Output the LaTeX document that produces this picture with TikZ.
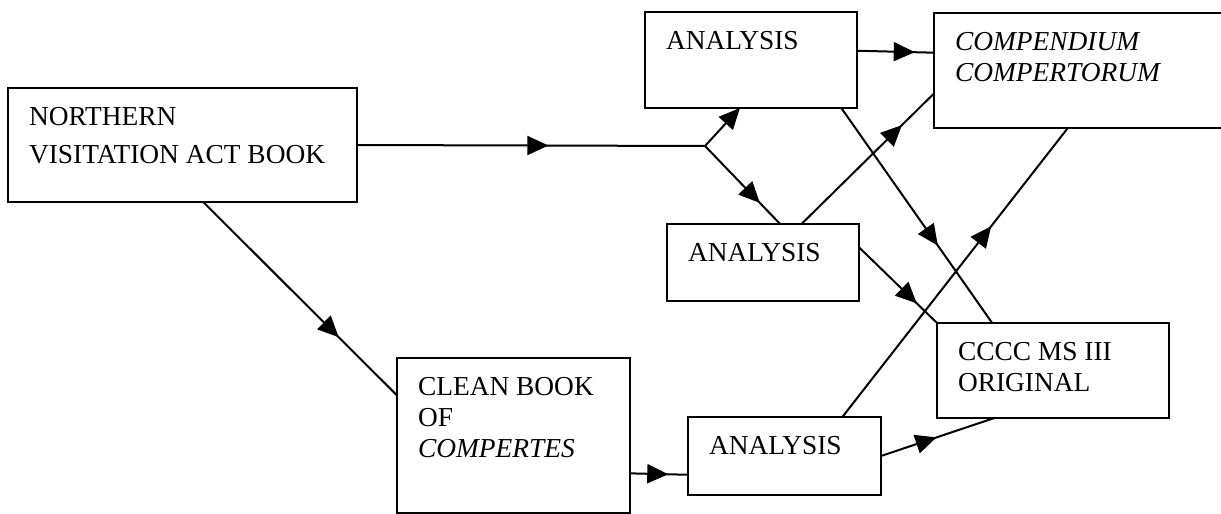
\documentclass[tikz,border=0pt]{standalone}
\usepackage{fontspec}
\setmainfont{Liberation Serif}
\usetikzlibrary{arrows.meta,decorations.markings}

\begin{document}
\begin{tikzpicture}[x=0.5pt,y=-0.5pt,
    srcbox/.style={draw, line width=1pt, anchor=north west, outer sep=0pt,
      inner xsep=10.5pt, inner ysep=9.5pt, font=\fontsize{13.7pt}{15.5pt}\selectfont},
    flow/.style={line width=1pt},
    midarrow/.style={flow, postaction={decorate},
      decoration={markings, mark=at position #1 with {\arrow{Triangle[length=10.5pt,width=9.5pt]}}}},
    endarrow/.style={flow, -{Triangle[length=10.5pt,width=9.5pt]}}]

      \useasboundingbox (0,0) rectangle (1221,514);

      \node[srcbox] (nvab) at (8,88) {\parbox[c][38pt][t]{153.5pt}{NORTHERN\\[3.5pt]VISITATION ACT BOOK}};
      \node[srcbox] (clean) at (397,358) {\parbox[c][58.5pt][t]{95.5pt}{CLEAN BOOK\\OF\\\textit{COMPERTES}}};

      \node[srcbox] (ana1) at (645,12) {\parbox[c][29pt][t]{85pt}{ANALYSIS}};
      \node[srcbox] (ana2) at (667,224) {\parbox[c][19.5pt][t]{75pt}{ANALYSIS}};
      \node[srcbox] (ana3) at (688,417) {\parbox[c][20pt][t]{75.5pt}{ANALYSIS}};

      \node[srcbox] (comp) at (934,13) {\parbox[c][38.5pt][t]{124pt}{\textit{COMPENDIUM}\\\textit{COMPERTORUM}}};
      \node[srcbox] (cccc) at (937,323) {\parbox[c][28.5pt][t]{95pt}{CCCC MS III\\ORIGINAL}};

      \coordinate (split) at (705,146);

      \draw[midarrow=0.55] (nvab.east) -- (split);
      \draw[endarrow] (split) -- (ana1.257);
      \draw[midarrow=0.73] (split) -- (ana2.66);

      \draw[midarrow=0.70] (nvab.-70) -- (clean.161);
      \draw[midarrow=0.66] (clean.-18) -- (ana3.191);

      \draw[midarrow=0.75] (ana1.5) -- (comp.173);
      \draw[midarrow=0.64] (ana1.-28) -- (cccc.142);
      \draw[midarrow=0.76] (ana2.45) -- (comp.189);
      \draw[midarrow=0.74] (ana2.9) -- (cccc.north west);
      \draw[midarrow=0.66] (ana3.34) -- (comp.259);
      \draw[midarrow=0.49] (ana3.east) -- (cccc.219);

\end{tikzpicture}
\end{document}
